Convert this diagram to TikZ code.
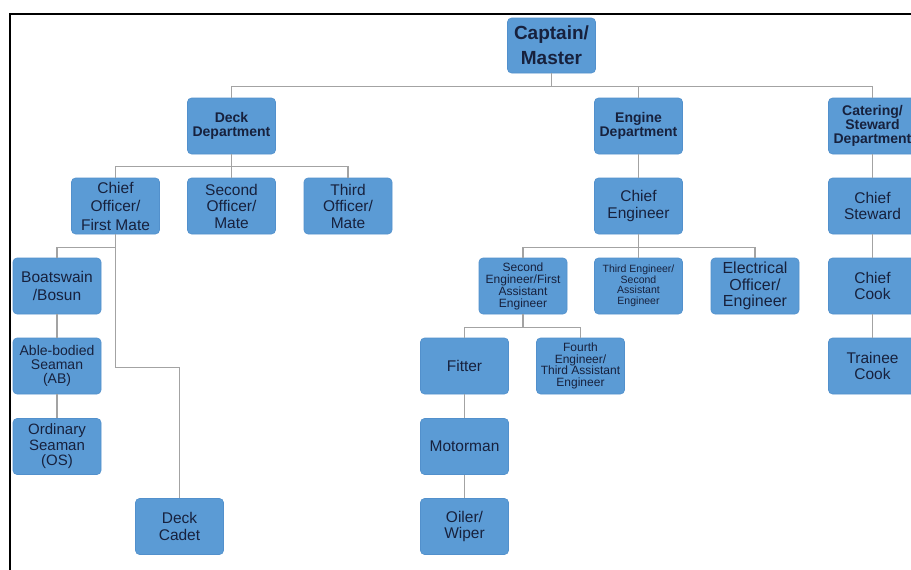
\documentclass[tikz,border=0pt]{standalone}
\usepackage{fontspec}
\setmainfont{Liberation Sans}
\definecolor{boxfill}{HTML}{5B9BD5}
\definecolor{boxedge}{HTML}{5290CC}
\definecolor{txt}{HTML}{17213D}
\definecolor{linec}{HTML}{A3A3A3}
\begin{document}
\begin{tikzpicture}[x=1pt,y=-1pt,
  box/.style={draw=boxedge, fill=boxfill, rounded corners=4pt, minimum width=88pt,
    minimum height=56pt, inner sep=0pt, align=center, text=txt, line width=0.6pt,
    font=\fontsize{15.5}{16.5}\selectfont},
  dept/.style={box, font=\bfseries\fontsize{14}{14}\selectfont},
  small/.style={box, font=\fontsize{12}{12}\selectfont},
  tiny/.style={box, font=\fontsize{10.5}{10.5}\selectfont},
  conn/.style={draw=linec, line width=1.4pt}]
\clip (0,0) rectangle (911,570);
\useasboundingbox (0,0) rectangle (911,570);
\fill[white] (0,0) rectangle (911,570);
% frame
\draw[line width=2.4pt, black] (10,572) -- (10,14) -- (913,14);

% nodes
\node[box, minimum height=55pt, font=\bfseries\fontsize{19}{25}\selectfont] (cap) at (551.5,45.5) {Captain/\\Master};
\node[dept] (deck) at (231.5,126) {Deck\\Department};
\node[dept] (eng) at (638.5,126) {Engine\\Department};
\node[dept] (cat) at (872.5,126) {Catering/\\Steward\\Department};

\node[box, font=\fontsize{15.5}{18.5}\selectfont] (co) at (115.5,206) {Chief\\Officer/\\First Mate};
\node[box] (so) at (231.5,206) {Second\\Officer/\\Mate};
\node[box] (to) at (348,206) {Third\\Officer/\\Mate};
\node[box] (ce) at (638.5,206) {Chief\\Engineer};
\node[box] (cs) at (872.5,206) {Chief\\Steward};

\node[box, font=\fontsize{15.5}{18}\selectfont] (bos) at (57,286) {Boatswain\\/Bosun};
\node[box, font=\fontsize{14}{14}\selectfont] (ab) at (57,366) {Able-bodied\\Seaman\\(AB)};
\node[box, font=\fontsize{15}{15.5}\selectfont] (os) at (57,446.5) {Ordinary\\Seaman\\(OS)};
\node[box] (cad) at (179.5,526.5) {Deck\\Cadet};

\node[small] (se) at (523,286) {Second\\Engineer/First\\Assistant\\Engineer};
\node[tiny] (te) at (638.5,286) {Third Engineer/\\Second\\Assistant\\Engineer};
\node[box, font=\fontsize{16}{16.5}\selectfont] (el) at (755,286) {Electrical\\Officer/\\Engineer};
\node[box] (cck) at (872.5,286) {Chief\\Cook};

\node[box] (fit) at (464.5,366) {Fitter};
\node[small, font=\fontsize{12}{11.7}\selectfont] (fe) at (580.5,366) {Fourth\\Engineer/\\Third Assistant\\Engineer};
\node[box] (tc) at (872.5,366) {Trainee\\Cook};
\node[box] (mot) at (464.5,446.5) {Motorman};
\node[box] (oil) at (464.5,526.5) {Oiler/\\Wiper};

% connectors
\draw[conn] (cap.south) -- ++(0,13) -| (deck.north);
\draw[conn] (cap.south) -- ++(0,13) -| (eng.north);
\draw[conn] (cap.south) -- ++(0,13) -| (cat.north);

\draw[conn] (deck.south) -- ++(0,12) -| (co.north);
\draw[conn] (deck.south) -- (so.north);
\draw[conn] (deck.south) -- ++(0,12) -| (to.north);

\draw[conn] (co.south) -- ++(0,13) -| (bos.north);
\draw[conn] (co.south) -- ++(0,133) -| (cad.north);
\draw[conn] (bos.south) -- (ab.north);
\draw[conn] (ab.south) -- (os.north);

\draw[conn] (eng.south) -- (ce.north);
\draw[conn] (ce.south) -- ++(0,13) -| (se.north);
\draw[conn] (ce.south) -- (te.north);
\draw[conn] (ce.south) -- ++(0,13) -| (el.north);

\draw[conn] (se.south) -- ++(0,13) -| (fit.north);
\draw[conn] (se.south) -- ++(0,13) -| (fe.north);
\draw[conn] (fit.south) -- (mot.north);
\draw[conn] (mot.south) -- (oil.north);

\draw[conn] (cat.south) -- (cs.north);
\draw[conn] (cs.south) -- (cck.north);
\draw[conn] (cck.south) -- (tc.north);
\end{tikzpicture}
\end{document}
